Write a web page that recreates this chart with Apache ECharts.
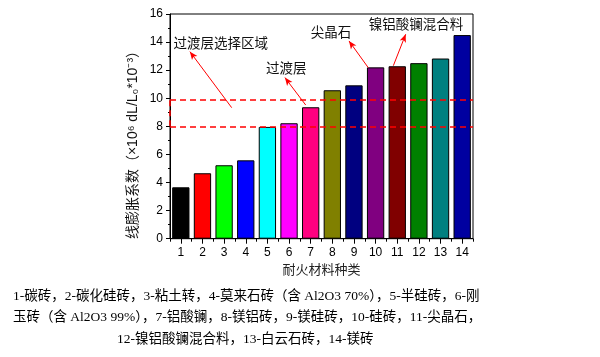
<!DOCTYPE html>
<html><head><meta charset="utf-8">
<script src="https://cdn.jsdelivr.net/npm/echarts@6/dist/echarts.min.js"></script>
<style>html,body{margin:0;padding:0;background:#fff}#c{width:600px;height:357px}</style>
</head><body><div id="c"></div>
<script>
const categories = ['1','2','3','4','5','6','7','8','9','10','11','12','13','14'];
const values = [3.66, 4.66, 5.23, 5.58, 7.96, 8.22, 9.36, 10.57, 10.92, 12.2, 12.28, 12.5, 12.83, 14.5];
const barColors = ['#000000','#ff0000','#00ff00','#0000ff','#00ffff','#ff00ff','#ff0080','#808000','#000080','#800080','#800000','#008000','#008080','#0000a0'];
const yTicks = [0,2,4,6,8,10,12,14,16];
const bandLines = [9.9, 8.0];
const annTexts = ['过渡层选择区域','过渡层','尖晶石','镍铝酸镧混合料'];
const annTextPos = [[2.85,13.94],[5.87,12.16],[7.94,14.72],[11.87,15.29]];
const annArrows = [[[3.35,9.33],[1.42,13.32]],[[6.77,9.52],[5.81,11.47]],[[9.66,12.18],[8.77,14.08]],[[10.82,12.32],[11.39,14.56]]];
const yName = '线膨胀系数（×10⁶ dL/L₀*10⁻³）';
const xName = '耐火材料种类';
const captionLines = [
 '1-碳砖，2-碳化硅砖，3-粘土转，4-莫来石砖（含 Al2O3 70%），5-半硅砖，6-刚',
 '玉砖（含 Al2O3 99%），7-铝酸镧，8-镁铝砖，9-镁硅砖，10-硅砖，11-尖晶石，',
 '12-镍铝酸镧混合料，13-白云石砖，14-镁砖'
];

const chart = echarts.init(document.getElementById('c'), null, {renderer:'canvas'});
const sans = 'Liberation Sans, Arial, Noto Sans CJK SC, sans-serif';
const capFont = '13.5px Liberation Serif, Noto Sans CJK SC, serif';
const option = {
  backgroundColor:'#fff',
  animation:false,
  grid:{left:170, right:127, top:14, bottom:118.3, show:true, borderColor:'#000', borderWidth:1, backgroundColor:'transparent'},
  xAxis:[
    {type:'category', data:categories, position:'bottom',
     axisLine:{lineStyle:{color:'#000', width:1}},
     axisTick:{show:true, inside:false, length:3, lineStyle:{color:'#000'}},
     axisLabel:{color:'#000', fontSize:12, fontFamily:sans, margin:8},
     name:xName, nameLocation:'middle', nameGap:23,
     nameTextStyle:{color:'#222', fontSize:13, fontFamily:sans}},
    {type:'category', data:categories, position:'bottom',
     axisLine:{show:false},
     axisTick:{show:true, alignWithLabel:true, inside:false, length:5, lineStyle:{color:'#000'}},
     axisLabel:{show:false}},
    {type:'value', min:0.5, max:14.5, show:false}
  ],
  yAxis:[{type:'value', min:yTicks[0], max:yTicks[yTicks.length-1], interval:2,
    axisLine:{show:true, lineStyle:{color:'#000', width:1}},
    axisTick:{show:true, inside:false, length:4, lineStyle:{color:'#000'}},
    minorTick:{show:true, splitNumber:2, length:2, lineStyle:{color:'#000'}},
    splitLine:{show:false},
    axisLabel:{color:'#000', fontSize:12, fontFamily:sans, margin:7}
  }],
  series:[
    {type:'bar', xAxisIndex:0, yAxisIndex:0, barWidth:'80%',
     data: values.map((v,i)=>({value:v, itemStyle:{color:barColors[i]}})),
     itemStyle:{borderColor:'#000', borderWidth:1},
     markLine:{silent:true, symbol:['none','none'], label:{show:false},
       lineStyle:{color:'#ff0000', type:[6,4], width:1.5},
       data: bandLines.map(v=>({yAxis:v}))}
    },
    {type:'line', xAxisIndex:2, yAxisIndex:0, data:[[1,0]], showSymbol:false, lineStyle:{opacity:0}, silent:true,
     markLine:{silent:true, symbol:['none','arrow'], symbolSize:[5,8], label:{show:false},
       lineStyle:{color:'#ff0000', type:'solid', width:1},
       data: annArrows.map(a=>[{coord:a[0]},{coord:a[1]}]).concat([[{coord:[0.5,bandLines[1]], symbol:'none'},{coord:[0.5,bandLines[0]], symbol:'none', lineStyle:{type:[6,4], width:1.5}}]])
     },
     markPoint:{silent:true, symbol:'circle', symbolSize:0,
       label:{show:true, position:'inside', color:'#111', fontSize:13.5, fontFamily:'Noto Sans CJK SC, sans-serif'},
       data: annTexts.map((t,i)=>({coord:annTextPos[i], value:t, label:{formatter:t}}))
     }
    }
  ],
  graphic:[
    {type:'text', x:133, y:141.5, rotation:Math.PI/2,
     style:{text:yName, fill:'#111', font:'14px Liberation Sans, Noto Sans CJK SC, sans-serif', align:'center', verticalAlign:'middle'}},
    {type:'text', x:13, y:296, style:{text:captionLines[0], fill:'#000', font:capFont, align:'left', verticalAlign:'middle'}},
    {type:'text', x:13, y:317, style:{text:captionLines[1], fill:'#000', font:capFont, align:'left', verticalAlign:'middle'}},
    {type:'text', x:117, y:339, style:{text:captionLines[2], fill:'#000', font:capFont, align:'left', verticalAlign:'middle'}}
  ]
};
chart.setOption(option);
</script></body></html>
